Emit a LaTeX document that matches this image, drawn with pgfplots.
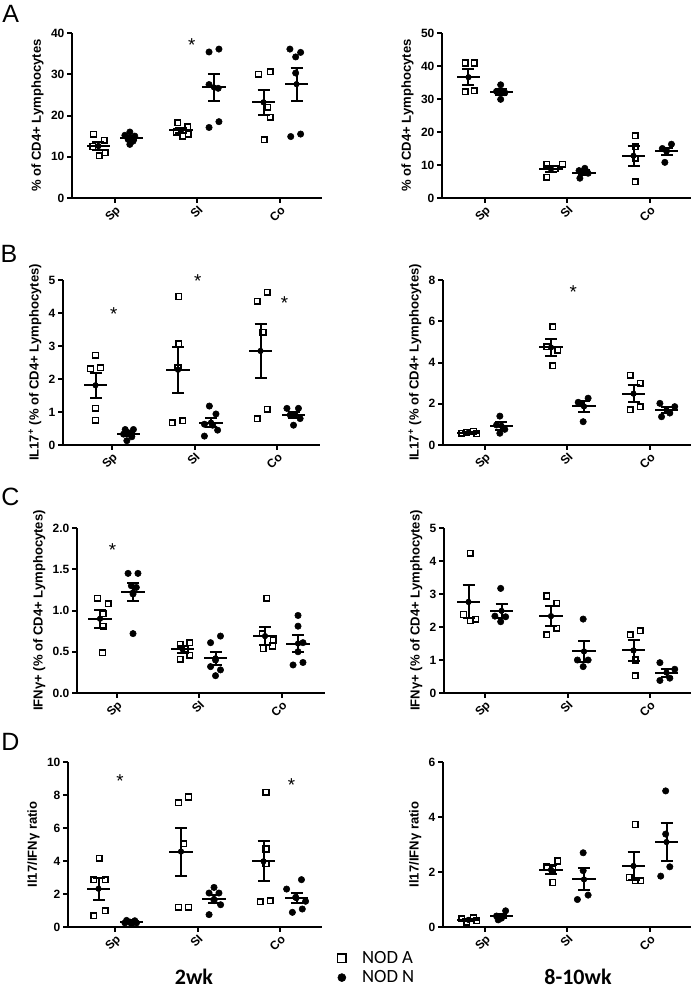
\documentclass[border=0pt]{standalone}
\usepackage{pgfplots}
\pgfplotsset{compat=1.18}
\usepackage{pgfplotstable}
\usepackage{fontspec}
\setmainfont{Liberation Sans}
\newfontfamily\carlito{Carlito}
\newcommand{\tickfont}{\bfseries\fontsize{9}{10}\selectfont}
\newcommand{\labfont}{\bfseries\fontsize{9.8}{11}\selectfont}
\newcommand{\astfont}{\fontsize{14}{14}\selectfont}

% ---------- Panel A left ----------
\pgfplotstableread{
x y
-0.26 15.5
-0.13 14.0
-0.27 12.5
-0.12 11.0
-0.19 10.2
0.76 18.2
0.88 17.3
0.74 16.0
0.89 15.5
0.82 15.0
1.74 30.0
1.88 30.6
1.85 22.0
1.88 19.6
1.81 14.1
}\ALa
\pgfplotstableread{
x y
0.18 16.0
0.12 15.2
0.24 15.0
0.16 14.2
0.22 13.8
0.18 13.0
1.14 35.4
1.26 36.1
1.14 27.5
1.25 26.6
1.14 17.1
1.26 18.5
2.12 36.1
2.25 35.3
2.19 34.2
2.19 30.3
2.13 14.9
2.25 15.5
}\ALn
\pgfplotstableread{
x m s
-0.2 12.6 1.0
0.2 14.6 0.5
0.8 16.4 0.6
1.2 26.8 3.3
1.8 23.2 3.1
2.2 27.6 4.0
}\ALs
% ---------- Panel A right ----------
\pgfplotstableread{
x y
-0.24 40.9
-0.13 40.9
-0.24 32.2
-0.13 32.5
0.75 10.2
0.85 8.8
0.94 10.2
0.75 6.3
1.82 18.8
1.82 15.5
1.82 12.0
1.82 4.9
}\ARa
\pgfplotstableread{
x y
0.19 34.3
0.14 32.3
0.24 31.9
0.19 29.9
1.14 8.3
1.21 9.0
1.25 7.5
1.15 6.0
2.26 16.3
2.15 15.0
2.20 14.3
2.18 10.8
}\ARn
\pgfplotstableread{
x m s
-0.2 36.6 2.5
0.2 32.1 0.9
0.8 8.8 0.9
1.2 7.7 0.7
1.8 12.8 3.0
2.2 14.1 1.2
}\ARs
% ---------- Panel B left ----------
\pgfplotstableread{
x y
-0.20 2.72
-0.14 2.34
-0.26 2.31
-0.20 1.11
-0.20 0.75
0.81 4.50
0.81 3.07
0.80 2.34
0.73 0.68
0.86 0.73
1.76 4.36
1.88 4.63
1.83 3.42
1.76 0.80
1.88 1.08
}\BLa
\pgfplotstableread{
x y
0.16 0.47
0.26 0.47
0.20 0.37
0.14 0.33
0.24 0.25
0.18 0.13
1.18 1.18
1.26 0.94
1.12 0.63
1.22 0.60
1.28 0.45
1.12 0.27
2.12 1.11
2.26 1.11
2.16 0.91
2.22 0.91
2.28 0.80
2.20 0.60
}\BLn
\pgfplotstableread{
x m s
-0.2 1.81 0.38
0.2 0.33 0.05
0.8 2.28 0.70
1.2 0.68 0.13
1.8 2.85 0.82
2.2 0.91 0.08
}\BLs
% ---------- Panel B right ----------
\pgfplotstableread{
x y
-0.28 0.58
-0.22 0.62
-0.14 0.66
-0.10 0.55
0.82 5.73
0.75 4.77
0.88 4.60
0.82 3.84
1.76 3.39
1.88 2.99
1.76 1.70
1.88 1.86
}\BRa
\pgfplotstableread{
x y
0.18 1.40
0.14 0.97
0.24 0.76
0.18 0.57
1.25 2.27
1.13 2.07
1.17 2.00
1.19 1.13
2.12 2.02
2.30 1.86
2.24 1.55
2.14 1.37
}\BRn
\pgfplotstableread{
x m s
-0.2 0.60 0.04
0.2 0.93 0.18
0.8 4.73 0.40
1.2 1.87 0.27
1.8 2.49 0.40
2.2 1.70 0.14
}\BRs
% ---------- Panel C left ----------
\pgfplotstableread{
x y
-0.23 1.15
-0.10 1.08
-0.16 0.96
-0.16 0.81
-0.17 0.49
0.77 0.59
0.89 0.61
0.83 0.53
0.77 0.41
0.89 0.46
1.82 1.15
1.77 0.72
1.90 0.64
1.78 0.54
1.89 0.57
}\CLa
\pgfplotstableread{
x y
0.14 1.45
0.26 1.45
0.18 1.30
0.24 1.28
0.20 1.20
0.20 0.72
1.14 0.61
1.26 0.69
1.20 0.40
1.14 0.32
1.26 0.28
1.20 0.21
2.20 0.94
2.20 0.81
2.26 0.61
2.20 0.50
2.14 0.34
2.26 0.37
}\CLn
\pgfplotstableread{
x m s
-0.2 0.90 0.11
0.2 1.22 0.11
0.8 0.53 0.04
1.2 0.42 0.08
1.8 0.69 0.11
2.2 0.60 0.10
}\CLs
% ---------- Panel C right ----------
\pgfplotstableread{
x y
-0.18 4.23
-0.26 2.38
-0.18 2.19
-0.11 2.23
0.75 2.94
0.87 2.72
0.87 1.96
0.75 1.76
1.76 1.76
1.88 1.89
1.82 1.00
1.82 0.52
}\CRa
\pgfplotstableread{
x y
0.19 3.17
0.12 2.33
0.25 2.31
0.19 2.16
1.19 2.24
1.12 1.00
1.25 1.00
1.19 0.80
2.12 0.92
2.30 0.72
2.24 0.45
2.12 0.38
}\CRn
\pgfplotstableread{
x m s
-0.2 2.76 0.50
0.2 2.49 0.22
0.8 2.33 0.30
1.2 1.26 0.33
1.8 1.29 0.33
2.2 0.62 0.12
}\CRs
% ---------- Panel D left ----------
\pgfplotstableread{
x y
-0.19 4.18
-0.26 2.87
-0.12 2.87
-0.26 0.69
-0.12 0.99
0.77 7.52
0.89 7.88
0.83 5.05
0.77 1.21
0.89 1.21
1.83 8.16
1.83 4.73
1.83 3.84
1.76 1.52
1.88 1.60
}\DLa
\pgfplotstableread{
x y
0.14 0.40
0.24 0.38
0.18 0.30
0.12 0.25
0.26 0.25
0.20 0.18
1.20 2.40
1.14 2.06
1.26 2.06
1.28 1.35
1.20 1.60
1.14 0.75
2.26 2.87
2.08 2.30
2.19 1.80
2.31 1.56
2.15 0.89
2.27 1.09
}\DLn
\pgfplotstableread{
x m s
-0.2 2.32 0.67
0.2 0.30 0.04
0.8 4.57 1.45
1.2 1.70 0.27
1.8 3.98 1.21
2.2 1.75 0.30
}\DLs
% ---------- Panel D right ----------
\pgfplotstableread{
x y
-0.28 0.30
-0.22 0.18
-0.14 0.33
-0.10 0.22
0.75 2.19
0.88 2.40
0.82 2.10
0.82 1.62
1.82 3.73
1.75 1.80
1.82 1.68
1.89 1.68
}\DRa
\pgfplotstableread{
x y
0.25 0.59
0.14 0.40
0.20 0.32
0.16 0.26
1.19 2.70
1.19 2.05
1.12 1.00
1.25 1.16
2.19 4.95
2.19 3.38
2.24 2.19
2.13 1.85
}\DRn
\pgfplotstableread{
x m s
-0.2 0.26 0.04
0.2 0.39 0.07
0.8 2.08 0.16
1.2 1.73 0.40
1.8 2.22 0.51
2.2 3.09 0.70
}\DRs

\pgfplotsset{
  panel/.style={
    scale only axis, height=123.75pt, ymin=0,
    anchor=south west,
    axis x line*=bottom, axis y line*=left,
    axis line style={line width=1.5pt,-},
    x axis line style={-}, y axis line style={-},
    tick align=outside, major tick length=3.5pt,
    tick style={black, line width=1.5pt},
    xtick={0,1,2}, xticklabels={Sp,SI,Co},
    xticklabel style={rotate=45, anchor=north east, inner sep=1pt, font=\tickfont},
    yticklabel style={font=\tickfont, inner sep=2pt},
    ylabel style={font=\labfont},
    /pgf/number format/assume math mode=true,
    clip=false, minor tick num=0,
  },
  nodA/.style={only marks, mark=square, mark size=2.1pt, mark options={line width=1.1pt, draw=black}},
  nodN/.style={only marks, mark=*, mark size=2.4pt, mark options={fill=black, draw=black}},
  legA/.style={legend image code/.code={\draw[##1, mark size=3.2pt] plot coordinates {(0pt,0pt)}; \path (-5pt,0pt) (13pt,0pt);}},
  legN/.style={legend image code/.code={\draw[##1, mark size=3.0pt] plot coordinates {(0pt,0pt)}; \path (-5pt,0pt) (13pt,0pt);}},
}
\newcommand{\summ}[1]{%
  \addplot[forget plot, only marks, mark=none, error bars/.cd, x dir=both, x fixed=0.14,
    error mark=none, error bar style={line width=1.5pt, black}] table[x=x,y=m] {#1};
  \addplot[forget plot, only marks, mark=none, error bars/.cd, y dir=both, y explicit,
    error mark options={rotate=90, mark size=4.5pt, line width=1.5pt, black},
    error bar style={line width=1.5pt, black}] table[x=x,y=m,y error=s] {#1};
}
\newcommand{\pts}[2]{%
  \addplot[forget plot, nodA] table[x=x,y=y] {#1};
  \addplot[forget plot, nodN] table[x=x,y=y] {#2};
}

\begin{document}
\begin{tikzpicture}
\path[use as bounding box] (0pt,0pt) rectangle (522pt,-741.75pt);

% A left
\begin{axis}[panel, at={(54pt,-148.5pt)}, width=187.5pt, xmin=-0.521, xmax=2.509,
  ymax=40, ytick={0,10,...,40}, ylabel={\% of CD4+ Lymphocytes}]
\pts{\ALa}{\ALn}
\summ{\ALs}
\node[font=\astfont, yshift=-3pt] at (axis cs:0.93,38.1) {*};
\end{axis}
% A right
\begin{axis}[panel, at={(331.5pt,-148.5pt)}, width=186.75pt, xmin=-0.521, xmax=2.497,
  ymax=50, ytick={0,10,...,50}, ylabel={\% of CD4+ Lymphocytes}]
\pts{\ARa}{\ARn}
\summ{\ARs}
\end{axis}
% B left
\begin{axis}[panel, at={(47.25pt,-333.75pt)}, width=192.75pt, xmin=-0.594, xmax=2.521,
  ymax=5, ytick={0,1,...,5}, ylabel={IL17\textsuperscript{+} (\% of CD4+ Lymphocytes)}]
\pts{\BLa}{\BLn}
\summ{\BLs}
\node[font=\astfont, yshift=-3pt] at (axis cs:0.02,4.09) {*};
\node[font=\astfont, yshift=-3pt] at (axis cs:1.04,5.08) {*};
\node[font=\astfont, yshift=-3pt] at (axis cs:2.09,4.43) {*};
\end{axis}
% B right
\begin{axis}[panel, at={(332.25pt,-333.75pt)}, width=186pt, xmin=-0.509, xmax=2.497,
  ymax=8, ytick={0,2,...,8}, ylabel={IL17\textsuperscript{+} (\% of CD4+ Lymphocytes)}]
\pts{\BRa}{\BRn}
\summ{\BRs}
\node[font=\astfont, yshift=-3pt] at (axis cs:1.07,7.59) {*};
\end{axis}
% C left
\begin{axis}[panel, at={(57.75pt,-519.75pt)}, width=186pt, xmin=-0.479, xmax=2.527,
  ymax=2, ytick={0,0.5,...,2},
  yticklabel style={/pgf/number format/fixed, /pgf/number format/fixed zerofill, /pgf/number format/precision=1},
  ylabel={IFNγ+ (\% of CD4+ Lymphocytes)}]
\pts{\CLa}{\CLn}
\summ{\CLs}
\node[font=\astfont, yshift=-3pt] at (axis cs:-0.05,1.78) {*};
\end{axis}
% C right
\begin{axis}[panel, at={(333pt,-519.75pt)}, width=185.25pt, xmin=-0.497, xmax=2.497,
  ymax=5, ytick={0,1,...,5}, ylabel={IFNγ+ (\% of CD4+ Lymphocytes)}]
\pts{\CRa}{\CRn}
\summ{\CRs}
\end{axis}
% D left
\begin{axis}[panel, at={(51pt,-695.25pt)}, width=190.5pt, xmin=-0.570, xmax=2.509,
  ymax=10, ytick={0,2,...,10}, ylabel={Il17/IFNγ ratio}]
\pts{\DLa}{\DLn}
\summ{\DLs}
\node[font=\astfont, yshift=-3pt] at (axis cs:0.06,9.07) {*};
\node[font=\astfont, yshift=-3pt] at (axis cs:2.14,8.83) {*};
\end{axis}
% D right
\begin{axis}[panel, at={(332.25pt,-695.25pt)}, width=186pt, xmin=-0.509, xmax=2.497,
  ymax=6, ytick={0,2,4,6}, ylabel={Il17/IFNγ ratio},
  legend style={at={(-0.453,-0.112)}, anchor=north west, draw=none, fill=none,
    font=\carlito\fontsize{14}{16}\selectfont, row sep=0pt},
  legend cell align=left]
\addplot[nodA, legA] table[x=x,y=y] {\DRa};
\addlegendentry{NOD A}
\addplot[nodN, legN] table[x=x,y=y] {\DRn};
\addlegendentry{NOD N}
\summ{\DRs}
\end{axis}

% panel letters
\node[anchor=base west, inner sep=0pt, font=\fontsize{18.75}{20}\selectfont] at (1.5pt,-16.5pt) {A};
\node[anchor=base west, inner sep=0pt, font=\fontsize{18.75}{20}\selectfont] at (0.3pt,-196.5pt) {B};
\node[anchor=base west, inner sep=0pt, font=\fontsize{18.75}{20}\selectfont] at (0.8pt,-378.75pt) {C};
\node[anchor=base west, inner sep=0pt, font=\fontsize{18.75}{20}\selectfont] at (0.8pt,-562.5pt) {D};
% group titles
\node[anchor=base, inner sep=0pt, font=\carlito\bfseries\fontsize{16.5}{18}\selectfont] at (145.5pt,-738pt) {2wk};
\node[anchor=base, inner sep=0pt, font=\carlito\bfseries\fontsize{16.5}{18}\selectfont] at (433.5pt,-738pt) {8-10wk};
\end{tikzpicture}
\end{document}
